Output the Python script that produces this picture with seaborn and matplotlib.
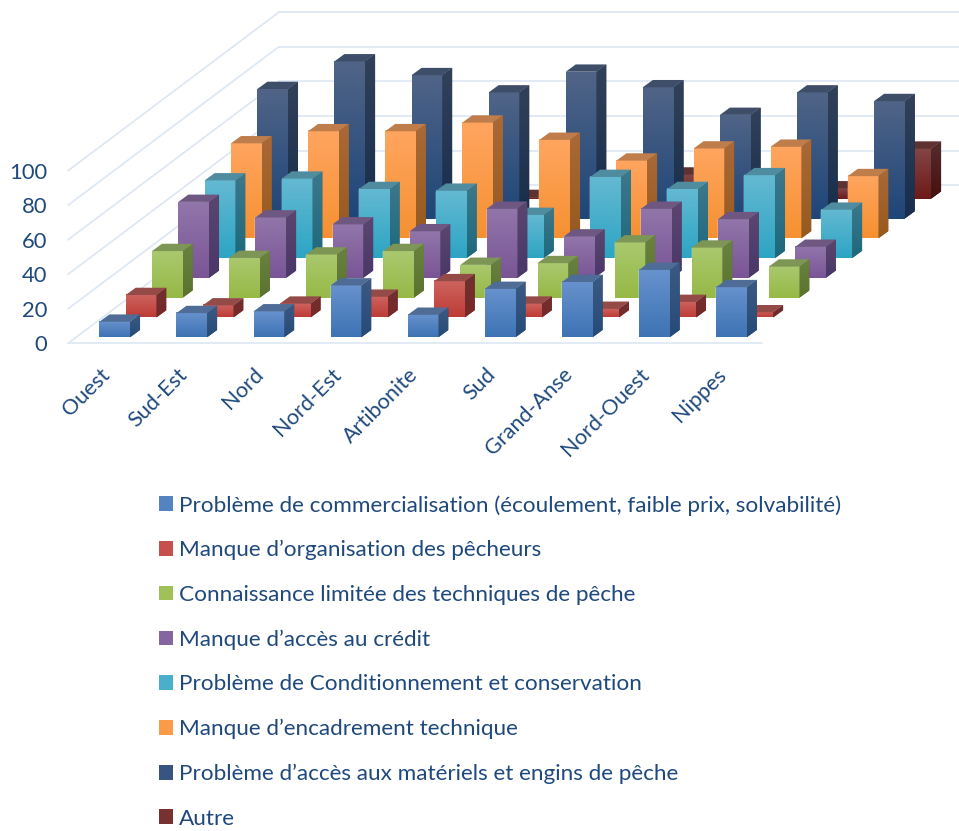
import numpy as np
import matplotlib
matplotlib.use("Agg")
import matplotlib.pyplot as plt
from matplotlib.patches import Patch, Polygon
from matplotlib.transforms import ScaledTranslation
import seaborn as sns

categories = ["Ouest", "Sud-Est", "Nord", "Nord-Est", "Artibonite", "Sud", "Grand-Anse", "Nord-Ouest", "Nippes"]
series_names = [
    "Problème de commercialisation (écoulement, faible prix, solvabilité)",
    "Manque d’organisation des pêcheurs",
    "Connaissance limitée des techniques de pêche",
    "Manque d’accès au crédit",
    "Problème de Conditionnement et conservation",
    "Manque d’encadrement technique",
    "Problème d’accès aux matériels et engins de pêche",
    "Autre",
]
commercialisation = [9, 14, 15, 30, 13, 28, 32, 39, 29]
organisation = [13, 7, 8, 12, 21, 8, 5, 9, 3]
techniques = [27, 23, 25, 27, 19, 20, 32, 29, 18]
credit = [44, 35, 31, 27, 40, 24, 40, 34, 18]
conditionnement = [45, 46, 40, 39, 25, 47, 40, 48, 28]
encadrement = [55, 62, 62, 67, 57, 45, 52, 53, 36]
materiels = [75, 91, 83, 73, 85, 76, 60, 73, 68]
autre = [0, 0, 0, 1, 0, 14, 0, 6, 29]
yticks = [0, 20, 40, 60, 80, 100]

# front (top, bottom), side (top, bottom), lid
palette = [
    ((103, 146, 205), (62, 115, 180), (60, 90, 130), (38, 75, 120), (78, 108, 150)),
    ((205, 100, 95), (190, 60, 55), (112, 48, 48), (120, 40, 40), (148, 75, 72)),
    ((170, 200, 110), (150, 185, 70), (105, 130, 65), (90, 115, 45), (125, 150, 85)),
    ((145, 118, 170), (122, 85, 150), (90, 70, 110), (75, 55, 105), (110, 88, 130)),
    ((100, 185, 210), (45, 165, 195), (60, 120, 140), (30, 105, 125), (80, 140, 160)),
    ((255, 165, 95), (245, 145, 50), (170, 105, 55), (150, 90, 30), (190, 125, 75)),
    ((80, 100, 135), (30, 70, 120), (50, 65, 90), (22, 45, 75), (62, 78, 105)),
    ((130, 70, 70), (110, 25, 25), (85, 45, 45), (70, 15, 15), (95, 50, 50)),
]
text_color = "#1F497D"
grid_color = "#DCE6F4"

sns.set_theme(style="white")
plt.rcParams["font.family"] = ["Lato", "DejaVu Sans"]

W, H = 959, 831
fig = plt.figure(figsize=(W / 100, H / 100), dpi=100, facecolor="white")
ax = fig.add_axes([68 / W, 1 - 343.4 / H, (W - 68) / W, 343.4 / H])

PX_X, PX_Y = 77.1, 1.727           # pixels per category, pixels per value unit
STEP_X, STEP_Y = 26.33 / PX_X, 19.79 / PX_Y   # oblique shift per series
BAR_DX, BAR_DY = 10 / PX_X, 7.3 / PX_Y        # oblique depth of one bar
FRONT = 0.31


def rgb(c):
    return np.array(c) / 255


def gradient(top, bottom, n=64):
    t = np.linspace(0, 1, n)[:, None]
    return (rgb(top) * (1 - t) + rgb(bottom) * t)[:, None, :]


all_series = [commercialisation, organisation, techniques, credit,
              conditionnement, encadrement, materiels, autre]
for s in range(len(all_series) - 1, -1, -1):
    front_top, front_bot, side_top, side_bot, lid = palette[s]
    before = len(ax.patches)
    sns.barplot(x=categories, y=all_series[s], order=categories, width=0.398,
                color=rgb(front_bot), saturation=1, errorbar=None, legend=False, ax=ax)
    bars = list(ax.patches[before:])
    z = 10 * (len(all_series) - s)
    ox, oy = (s + FRONT) * STEP_X, (s + FRONT) * STEP_Y
    for bar in bars:
        h = bar.get_height()
        if h <= 0:
            bar.set_visible(False)
            continue
        x0 = bar.get_x() + ox
        x1 = x0 + bar.get_width()
        bar.set_x(x0)
        bar.set_y(oy)
        bar.set_zorder(z)
        y0, y1 = oy, oy + h
        ax.imshow(gradient(front_top, front_bot), extent=(x0, x1, y0, y1), aspect="auto",
                  interpolation="bilinear", zorder=z + 1)
        side = Polygon([(x1, y0), (x1 + BAR_DX, y0 + BAR_DY), (x1 + BAR_DX, y1 + BAR_DY), (x1, y1)],
                       closed=True, facecolor=rgb(side_bot), edgecolor="none", zorder=z)
        ax.add_patch(side)
        im = ax.imshow(gradient(side_top, side_bot), extent=(x1, x1 + BAR_DX, y0, y1 + BAR_DY),
                       aspect="auto", interpolation="bilinear", zorder=z + 1)
        im.set_clip_path(side)
        ax.add_patch(Polygon([(x0, y1), (x1, y1), (x1 + BAR_DX, y1 + BAR_DY), (x0 + BAR_DX, y1 + BAR_DY)],
                             closed=True, facecolor=rgb(lid), edgecolor="none", zorder=z + 1))

n_cat, n_ser = len(categories), len(all_series)
x_left = -0.5
x_right = (W - 106.5) / PX_X
back_dx, back_dy = n_ser * STEP_X, n_ser * STEP_Y
for v in yticks:
    ax.plot([x_left, x_left + back_dx], [v, v + back_dy], color=grid_color, lw=1.2, zorder=1, clip_on=False)
    ax.plot([x_left + back_dx, x_left + back_dx + n_cat], [v + back_dy, v + back_dy],
            color=grid_color, lw=1.2, zorder=1, clip_on=False)
ax.plot([x_left, n_cat - 0.5], [0, 0], color=grid_color, lw=1.2, zorder=1, clip_on=False)

ax.set_xlim(x_left, x_right)
ax.set_ylim(0, 343.4 / PX_Y)
sns.despine(ax=ax, left=True, bottom=True, top=True, right=True)
ax.set_xlabel("")
ax.set_ylabel("")
ax.set_yticks(yticks)
ax.tick_params(axis="y", length=0, pad=15, labelsize=15.8, labelcolor=text_color)
ax.set_xticks(range(n_cat))
ax.set_xticklabels(categories)
ax.tick_params(axis="x", length=0, pad=15, labelsize=15.6, labelcolor=text_color)
shift = ScaledTranslation(-7 / 100, 0, fig.dpi_scale_trans)
for lab in ax.get_xticklabels():
    lab.set_rotation(45)
    lab.set_ha("right")
    lab.set_va("top")
    lab.set_rotation_mode("anchor")
    lab.set_transform(lab.get_transform() + shift)

handles = [Patch(facecolor=tuple((rgb(p[0]) + rgb(p[1])) / 2), edgecolor="none") for p in palette]
ax.legend(handles, series_names, loc="upper left", bbox_to_anchor=(159 / W, 1 - 495 / H),
          bbox_transform=fig.transFigure, frameon=False, fontsize=16.2, labelcolor=text_color,
          handlelength=0.62, handleheight=0.62, handletextpad=0.27, labelspacing=1.09,
          borderpad=0, borderaxespad=0)

fig.savefig("out.png", dpi=100, facecolor="white")
